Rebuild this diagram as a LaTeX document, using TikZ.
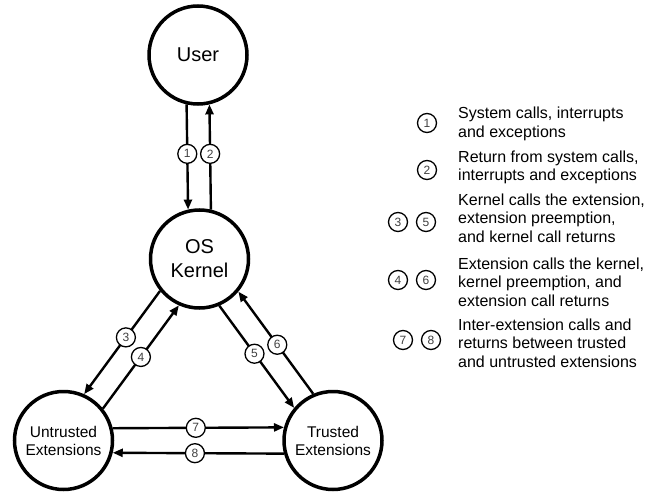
\documentclass[tikz,border=0pt]{standalone}
\usepackage{fontspec}
\setmainfont{Liberation Sans}
\usetikzlibrary{arrows.meta}
\tikzset{
  big/.style={draw, circle, line width=3.5pt, minimum size=98pt, inner sep=0pt, align=center},
  arr/.style={line width=2.4pt, -{Triangle[length=10pt,width=8pt]}},
  num/.style={draw, circle, fill=white, line width=1.3pt, minimum size=19pt, inner sep=0pt, font=\fontsize{12}{12}\selectfont, text=black!75},
  legtext/.style={anchor=west, align=left, inner sep=0pt, font=\fontsize{16}{18.5}\selectfont}
}
\begin{document}
\begin{tikzpicture}[x=1pt,y=-1pt]
\useasboundingbox (0,0) rectangle (647,492);
\node[big, font=\fontsize{20}{24}\selectfont] (user) at (198,55) {User};
\node[big, font=\fontsize{20}{24}\selectfont] (kernel) at (199.5,259) {OS\\Kernel};
\node[big, font=\fontsize{15.5}{18}\selectfont] (untr) at (63.5,440.5) {Untrusted\\Extensions};
\node[big, font=\fontsize{15.5}{18}\selectfont] (trus) at (333,440.5) {Trusted\\Extensions};

\draw[arr] (user.-103) -- node[num, pos=0.47] {1} (kernel.103);
\draw[arr] (kernel.77) -- node[num, pos=0.53] {2} (user.-77);

\draw[arr] (kernel.219.5) -- node[num, pos=0.45] {3} (untr.66.7);
\draw[arr] (untr.39.5) -- node[num, pos=0.5] {4} (kernel.246.7);

\draw[arr] (kernel.293) -- node[num, pos=0.47] {5} (trus.140.2);
\draw[arr] (trus.113) -- node[num, pos=0.48] {6} (kernel.320.2);

\draw[arr] (untr.14.2) -- node[num, pos=0.485] {7} (trus.165.8);
\draw[arr] (trus.-165.8) -- node[num, pos=0.52] {8} (untr.-14.2);

% legend
\node[num] (l1) at (427,123) {1};
\node[legtext] (t1) at (458,124) {System calls, interrupts\\and exceptions};
\node[num] (l2) at (427,170) {2};
\node[legtext] (t2) at (458,167.5) {Return from system calls,\\interrupts and exceptions};
\node[num] (l3) at (398,222) {3};
\node[num] (l5) at (426,222) {5};
\node[legtext] (t3) at (458,218) {Kernel calls the extension,\\extension preemption,\\and kernel call returns};
\node[num] (l4) at (398,280) {4};
\node[num] (l6) at (426,280) {6};
\node[legtext] (t4) at (458,282) {Extension calls the kernel,\\kernel preemption, and\\extension call returns};
\node[num] (l7) at (403,340) {7};
\node[num] (l8) at (431,340) {8};
\node[legtext] (t5) at (458,343) {Inter-extension calls and\\returns between trusted\\and untrusted extensions};
\end{tikzpicture}
\end{document}
